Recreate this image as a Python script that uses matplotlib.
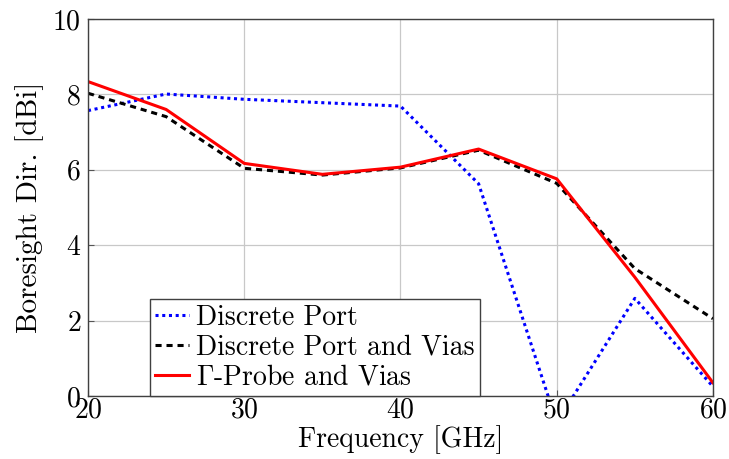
import matplotlib
matplotlib.use("Agg")
import matplotlib.pyplot as plt

plt.rcParams['font.family'] = 'serif'
plt.rcParams['font.serif'] = ['cmr10', 'DejaVu Serif']
plt.rcParams['mathtext.fontset'] = 'cm'
plt.rcParams['axes.formatter.use_mathtext'] = True

freq = [20, 25, 30, 35, 40, 45, 50, 55, 60]
discrete_port = [7.57, 8.01, 7.87, 7.78, 7.69, 5.63, -0.7, 2.59, 0.25]
discrete_vias = [8.03, 7.41, 6.04, 5.86, 6.05, 6.52, 5.64, 3.38, 2.05]
gamma_vias = [8.34, 7.60, 6.17, 5.88, 6.07, 6.55, 5.76, 3.15, 0.35]

labels = ['Discrete Port', 'Discrete Port and Vias', r'$\Gamma$-Probe and Vias']

fig = plt.figure(figsize=(7.29, 4.59), dpi=100)
ax = fig.add_axes([0.1207, 0.1373, 0.8573, 0.8213])

ax.plot(freq, discrete_port, color='#0000ff', linestyle=(0, (1, 1.2)), linewidth=2.2,
        label=labels[0])
ax.plot(freq, discrete_vias, color='black', linestyle=(0, (2, 1.6)), linewidth=2.2,
        label=labels[1])
ax.plot(freq, gamma_vias, color='#ff0000', linestyle='-', linewidth=2.2,
        label=labels[2])

ax.set_xlim(20, 60)
ax.set_ylim(0, 10)
ax.set_xticks([20, 30, 40, 50, 60])
ax.set_yticks([0, 2, 4, 6, 8, 10])
ax.grid(True, color='#c8c8c8', linewidth=0.9)
ax.set_axisbelow(True)
ax.tick_params(direction='in', length=4, width=0.8, color='#555555',
               labelsize=20, pad=1)
ax.tick_params(axis='y', pad=5)
for s in ax.spines.values():
    s.set_color('#404040')
    s.set_linewidth(1.0)

ax.set_xlabel('Frequency [GHz]', fontsize=20, labelpad=1)
ax.set_ylabel('Boresight Dir. [dBi]', fontsize=21, labelpad=6)

leg = ax.legend(loc='lower left', bbox_to_anchor=(0.099, 0.0), fontsize=20,
                frameon=True, fancybox=False, framealpha=1, edgecolor='#404040',
                handlelength=1.2, handletextpad=0.25, borderpad=0.2,
                labelspacing=0.12, borderaxespad=0.0)
leg.get_frame().set_linewidth(1.0)

fig.savefig('out.png', dpi=100)
